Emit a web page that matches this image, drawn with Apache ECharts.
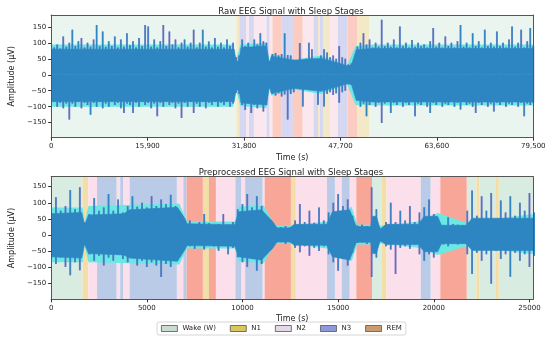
<!DOCTYPE html>
<html>
<head>
<meta charset="utf-8">
<script src="https://cdn.jsdelivr.net/npm/echarts@6/dist/echarts.min.js"></script>
<style>html,body{margin:0;padding:0;background:#fff}#c{width:550px;height:342px}</style>
</head>
<body>
<div id="c"></div>
<script>
// ---------------- DATA ----------------
const stageNames = ['Wake (W)', 'N1', 'N2', 'N3', 'REM'];
const stageKeys = ['W', 'N1', 'N2', 'N3', 'REM'];

// Raw EEG: sleep stage segments (boundaries in seconds)
const topStageEdges = [0, 30530, 31010, 32170, 32620, 33430, 35520, 36000, 36480, 37930, 39860, 41470, 43240, 44000, 44300, 44850, 45980, 47270, 48880, 50490, 52420, 79500];
const topStages = ['W', 'N1', 'N3', 'N2', 'N3', 'N2', 'N3', 'N2', 'REM', 'N3', 'REM', 'N2', 'N3', 'N1', 'N3', 'N1', 'N2', 'N3', 'REM', 'N1', 'W'];

// Preprocessed EEG: sleep stage segments
const bottomStageEdges = [0, 1640, 1940, 2400, 3420, 3610, 3760, 4100, 6570, 6910, 7080, 7930, 8250, 8610, 9630, 9930, 10140, 11050, 11160, 12530, 12790, 14420, 14830, 15190, 15600, 15950, 16770, 17280, 17530, 19320, 19830, 20340, 21720, 22230, 22390, 23250, 23400, 25200];
const bottomStages = ['W', 'N1', 'N2', 'N3', 'N2', 'N3', 'N2', 'N3', 'N2', 'N3', 'REM', 'N1', 'REM', 'N2', 'N3', 'N2', 'N3', 'N2', 'REM', 'N1', 'N2', 'N3', 'N2', 'N3', 'N2', 'REM', 'W', 'N1', 'N2', 'N3', 'N2', 'REM', 'W', 'N1', 'W', 'N1', 'W'];

// Raw EEG: per-bin signal extremes (µV), one bin every 500 s
const TOP_STEP = 500;
const topUpper = [100,85,95,82,120,88,100,141,90,105, 115,85,100,88,110,156,90,135,88,105,
  90,120,85,110,88,130,92,105,85,115, 90,156,151,88,110,85,105,156,90,135,
  95,110,85,100,110,88,100,141,85,100, 141,88,104,85,115,88,100,85,110,90,
  100,55,60,110,90,100,85,110,95,130, 105,100,42,65,68,60,65,130,62,60,
  47,45,99,45,50,100,80,45,48,60, 80,70,55,60,50,90,55,50,32,35,
  35,88,100,130,95,110,85,100,88,172, 90,100,88,110,85,151,90,100,85,109,
  88,100,90,95,85,105,146,88,100,85, 120,90,100,85,105,156,88,100,85,130,
  90,105,85,141,90,100,88,135,90,100, 85,110,151,88,100,141,85,105,146,90];
const topLower = [-95,-85,-100,-88,-105,-90,-140,-90,-100,-85, -105,-88,-95,-125,-88,-100,-85,-105,-90,-100,
  -85,-95,-88,-105,-120,-90,-95,-120,-88,-100, -85,-95,-88,-105,-90,-130,-88,-100,-85,-95,
  -88,-105,-90,-135,-88,-100,-85,-120,-90,-100, -85,-105,-88,-95,-85,-100,-88,-95,-85,-100,
  -90,-57,-60,-95,-110,-90,-120,-95,-105,-90, -115,-95,-42,-60,-65,-58,-68,-62,-140,-60,
  -55,-42,-45,-99,-42,-45,-40,-45,-94,-50, -99,-60,-55,-63,-58,-88,-55,-50,-30,-32,
  -35,-78,-100,-90,-130,-95,-85,-100,-88,-151, -90,-85,-120,-88,-95,-85,-100,-88,-95,-85,
  -130,-90,-95,-85,-100,-120,-88,-95,-85,-100, -90,-95,-85,-100,-88,-109,-85,-95,-90,-100,
  -120,-88,-95,-85,-100,-90,-115,-88,-95,-85, -100,-90,-95,-85,-100,-88,-130,-90,-95,-88];

// Raw EEG: dense core of the trace
const topCoreTime = [0, 30200, 30500, 31000, 31300, 35500, 36000, 36300, 40000, 44500, 48800, 49500, 50300, 53000, 79500];
const topCoreUpper = [80, 80, 40, 45, 85, 90, 35, 58, 45, 52, 28, 30, 78, 82, 82];
const topCoreLower = [-84, -84, -45, -50, -88, -95, -38, -58, -42, -52, -28, -30, -80, -85, -85];

// Raw EEG: cyan band
const topCyanTime = [0, 30000, 30500, 31200, 35500, 36000, 36300, 40000, 44500, 48800, 50200, 53000, 79500];
const topCyanUpper = [95, 95, 48, 95, 100, 40, 66, 48, 60, 30, 90, 95, 95];
const topCyanLower = [-100, -100, -48, -98, -105, -40, -66, -46, -60, -30, -95, -96, -96];

// Preprocessed EEG: per-bin signal extremes (µV), one bin every 250 s
const BOTTOM_STEP = 250;
const bottomUpper = [70,117,75,90,140,80,148,39,65,115, 75,85,127,75,110,70,90,120,88,100,
  85,120,90,110,95,125,90,60,40,45, 34,40,65,36,30,34,65,32,40,80,
  96,127,85,120,90,55,45,25,24,28, 24,45,96,40,75,38,85,45,70,100,
  127,90,110,60,29,32,28,148,80,20, 40,100,40,75,45,90,40,70,86,110,
  65,34,30,55,34,32,30,75,138,60, 120,75,130,50,107,70,120,60,100,75, 130,70];
const bottomLower = [-75,-90,-70,-100,-125,-85,-110,-30,-60,-80, -65,-95,-70,-80,-60,-75,-85,-70,-95,-80,
  -100,-85,-95,-131,-90,-100,-80,-55,-40,-35, -43,-30,-45,-28,-35,-49,-30,-60,-40,-69,
  -85,-100,-75,-111,-90,-60,-45,-25,-23,-28, -23,-40,-54,-35,-65,-40,-50,-35,-60,-85,
  -111,-75,-95,-55,-25,-23,-28,-131,-70,-20, -35,-45,-121,-40,-35,-43,-30,-60,-80,-60,
  -70,-28,-30,-35,-28,-30,-25,-60,-121,-55, -80,-60,-152,-50,-75,-60,-130,-55,-80,-60, -100,-65];

// Preprocessed EEG: dense core of the trace
const bottomCoreTime = [0, 1600, 1750, 1950, 3800, 4100, 6600, 7000, 7100, 9600, 9800, 11000, 11600, 11800, 12500, 12700, 14400, 14700, 15600, 15950, 16700, 16800, 17000, 17200, 17500, 19200, 19500, 20200, 20400, 21700, 22000, 25200];
const bottomCoreUpper = [66, 70, 30, 62, 66, 78, 86, 50, 35, 32, 72, 78, 40, 22, 22, 33, 33, 72, 78, 26, 26, 58, 58, 18, 33, 33, 58, 58, 30, 30, 52, 52];
const bottomCoreLower = [-68, -72, -28, -58, -62, -72, -82, -45, -33, -35, -68, -78, -40, -22, -22, -32, -32, -68, -78, -23, -23, -58, -58, -18, -30, -30, -52, -52, -27, -27, -48, -48];

// Preprocessed EEG: cyan band
const bottomCyanTime = [0, 1650, 1750, 1950, 6700, 7100, 9600, 9800, 11100, 11700, 12600, 14400, 15700, 16000, 16700, 16800, 17100, 19200, 20200, 21700, 25200];
const bottomCyanUpper = [85, 85, 38, 90, 98, 42, 42, 88, 92, 30, 30, 42, 88, 32, 32, 55, 28, 42, 68, 38, 65];
const bottomCyanLower = [-85, -85, -33, -85, -92, -42, -42, -82, -88, -28, -28, -42, -82, -30, -30, -55, -26, -40, -62, -35, -60];

// Axis ticks
const topXTicks = [0, 15900, 31800, 47700, 63600, 79500];
const bottomXTicks = [0, 5000, 10000, 15000, 20000, 25000];
const yTicks = [-150, -100, -50, 0, 50, 100, 150];

// ---------------- STYLE ----------------
const FONT = 'DejaVu Sans';
const topBandColors = { W: '#eaf5f0', N1: '#f3e9c6', N2: '#fbe8ef', N3: '#d5d8f0', REM: '#fbcdc2' };
const bottomBandColors = { W: '#d9ece2', N1: '#f2dfa8', N2: '#fbdfea', N3: '#b9cbe6', REM: '#f8a698' };
const legendColors = { W: '#c8dcd0', N1: '#d6c85c', N2: '#e5d8e8', N3: '#8f98d8', REM: '#c89c70' };
const BLUE = '#2d86c2', PURPLE = 'rgba(112,88,190,0.75)', CYAN = '#6ae8e4';

const chart = echarts.init(document.getElementById('c'), null, { renderer: 'canvas' });

function segs(edges, stages, key) {
  const out = [];
  stages.forEach((s, i) => { if (s === key) out.push([edges[i], edges[i + 1]]); });
  return out;
}

function bandSeries(edges, stages, colors, axisIdx) {
  return stageKeys.map((k, si) => ({
    type: 'custom', name: stageNames[si], xAxisIndex: axisIdx, yAxisIndex: axisIdx,
    silent: true, z: 1, clip: true,
    data: segs(edges, stages, k),
    encode: { x: [0, 1] },
    renderItem: function (params, api) {
      const s = api.coord([api.value(0), 0]);
      const e = api.coord([api.value(1), 0]);
      const cs = params.coordSys;
      return { type: 'rect', shape: { x: s[0], y: cs.y, width: e[0] - s[0], height: cs.height },
        style: { fill: colors[k] } };
    }
  }));
}

function areaSeries(data, color, lineColor, lineW, axisIdx, z) {
  return {
    type: 'line', data: data, xAxisIndex: axisIdx, yAxisIndex: axisIdx,
    symbol: 'none', silent: true, z: z, clip: true,
    lineStyle: { color: lineColor, width: lineW },
    areaStyle: { color: color, opacity: 1, origin: 0 },
    itemStyle: { color: color }
  };
}

function needleSeries(up, lo, step, color, width, axisIdx, z) {
  return {
    type: 'custom', xAxisIndex: axisIdx, yAxisIndex: axisIdx, silent: true, z: z, clip: true,
    data: up.map((v, i) => [i * step, lo[i], v]),
    encode: { x: 0, y: [1, 2] },
    renderItem: function (params, api) {
      const a = api.coord([api.value(0), api.value(1)]);
      const b = api.coord([api.value(0), api.value(2)]);
      return { type: 'line', shape: { x1: a[0], y1: a[1], x2: b[0], y2: b[1] },
        style: { stroke: color, lineWidth: width } };
    }
  };
}

function signal(up, lo, step, coT, coU, coL, cT, cU, cL, axisIdx) {
  return [
    areaSeries(cT.map((t, i) => [t, cU[i]]), CYAN, CYAN, 0, axisIdx, 2),
    areaSeries(cT.map((t, i) => [t, cL[i]]), CYAN, CYAN, 0, axisIdx, 2),
    needleSeries(up, lo, step, PURPLE, 1.9, axisIdx, 3),
    needleSeries(up, lo, step, BLUE, 1.2, axisIdx, 4),
    areaSeries(coT.map((t, i) => [t, coU[i]]), BLUE, BLUE, 0.6, axisIdx, 5),
    areaSeries(coT.map((t, i) => [t, coL[i]]), BLUE, BLUE, 0.6, axisIdx, 5)
  ];
}

const labelStyle = { fontFamily: FONT, fontSize: 7, color: '#222' };
const frameLine = { show: true, onZero: false, lineStyle: { color: '#555', width: 1 } };
const minusFmt = v => (v < 0 ? '\u2212' + (-v) : String(v));

function xMain(gi, max, ticks, fmt) {
  return {
    type: 'value', gridIndex: gi, min: 0, max: max, z: 10,
    name: 'Time (s)', nameLocation: 'middle', nameGap: 16,
    nameTextStyle: { fontFamily: FONT, fontSize: 8, color: '#222' },
    axisLine: frameLine,
    axisTick: { show: true, length: 3, customValues: ticks, lineStyle: { color: '#333' } },
    axisLabel: Object.assign({ margin: 5, customValues: ticks, formatter: fmt }, labelStyle),
    splitLine: { show: false }
  };
}
function xFrame(gi, max) {
  return { type: 'value', gridIndex: gi, min: 0, max: max, position: 'top', z: 10,
    axisLine: frameLine, axisTick: { show: false }, axisLabel: { show: false }, splitLine: { show: false } };
}
function yMain(gi, min, max) {
  return {
    type: 'value', gridIndex: gi, min: min, max: max, z: 10,
    name: 'Amplitude (µV)', nameLocation: 'middle', nameGap: 27, nameRotate: 90,
    nameTextStyle: { fontFamily: FONT, fontSize: 8, color: '#222' },
    axisLine: frameLine,
    axisTick: { show: true, length: 3, customValues: yTicks, lineStyle: { color: '#333' } },
    axisLabel: Object.assign({ margin: 5, customValues: yTicks, formatter: minusFmt }, labelStyle),
    splitLine: { show: false }
  };
}
function yFrame(gi, min, max) {
  return { type: 'value', gridIndex: gi, min: min, max: max, position: 'right', z: 10,
    axisLine: frameLine, axisTick: { show: false }, axisLabel: { show: false }, splitLine: { show: false } };
}

const option = {
  animation: false,
  backgroundColor: '#ffffff',
  title: [
    { text: 'Raw EEG Signal with Sleep Stages', left: 286, top: 2, textAlign: 'center',
      textStyle: { fontFamily: FONT, fontSize: 8.5, fontWeight: 'normal', color: '#222' } },
    { text: 'Preprocessed EEG Signal with Sleep Stages', left: 286, top: 163, textAlign: 'center',
      textStyle: { fontFamily: FONT, fontSize: 8.5, fontWeight: 'normal', color: '#222' } }
  ],
  legend: {
    left: 157, top: 322, orient: 'horizontal',
    itemWidth: 16, itemHeight: 6, itemGap: 14, padding: [3, 4],
    borderColor: '#cccccc', borderWidth: 0.8, borderRadius: 2,
    icon: 'rect',
    textStyle: { fontFamily: FONT, fontSize: 7, color: '#222' },
    data: stageKeys.map((k, i) => ({ name: stageNames[i], icon: 'rect',
      itemStyle: { color: legendColors[k], borderColor: '#555', borderWidth: 0.8 } }))
  },
  grid: [
    { left: 39.3, right: 16.7, top: 15, height: 122.7, containLabel: false },
    { left: 39.3, right: 16.7, top: 176.7, height: 122.6, containLabel: false }
  ],
  xAxis: [
    xMain(0, 79500, topXTicks, v => v.toLocaleString('en-US')),
    xFrame(0, 79500),
    xMain(1, 25200, bottomXTicks, v => String(v)),
    xFrame(1, 25200)
  ],
  yAxis: [
    yMain(0, -197, 187), yFrame(0, -197, 187),
    yMain(1, -200, 181), yFrame(1, -200, 181)
  ],
  series: [].concat(
    bandSeries(topStageEdges, topStages, topBandColors, 0),
    signal(topUpper, topLower, TOP_STEP, topCoreTime, topCoreUpper, topCoreLower, topCyanTime, topCyanUpper, topCyanLower, 0),
    bandSeries(bottomStageEdges, bottomStages, bottomBandColors, 2),
    signal(bottomUpper, bottomLower, BOTTOM_STEP, bottomCoreTime, bottomCoreUpper, bottomCoreLower, bottomCyanTime, bottomCyanUpper, bottomCyanLower, 2)
  )
};
chart.setOption(option);
</script>
</body>
</html>
